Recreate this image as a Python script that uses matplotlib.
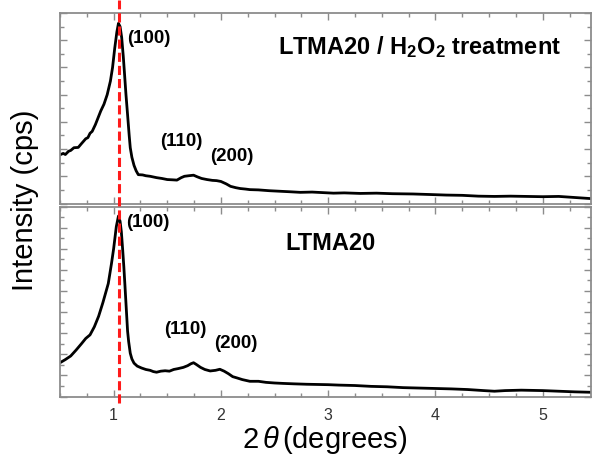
import matplotlib
matplotlib.use("Agg")
import matplotlib.pyplot as plt
import matplotlib.transforms as mtransforms
from matplotlib.ticker import MultipleLocator, NullFormatter

plt.rcParams['font.family'] = ['Liberation Sans', 'DejaVu Sans']
plt.rcParams['mathtext.fontset'] = 'custom'
plt.rcParams['mathtext.rm'] = 'Liberation Sans'
plt.rcParams['mathtext.it'] = 'Liberation Sans:italic'
plt.rcParams['mathtext.bf'] = 'Liberation Sans:bold'

# ---- data (arbitrary intensity units) ----
x_top = [0.50, 0.53, 0.55, 0.58, 0.60, 0.63, 0.67, 0.70, 0.74, 0.76, 0.78, 0.80, 0.83, 0.86, 0.88,
         0.91, 0.94, 0.97, 0.99, 1.01, 1.03, 1.045, 1.06, 1.075, 1.09, 1.10, 1.115,
         1.13, 1.145, 1.155, 1.17, 1.19, 1.21, 1.23, 1.27, 1.30, 1.34, 1.40, 1.45,
         1.50, 1.55, 1.59, 1.63, 1.66, 1.70, 1.745, 1.78, 1.82, 1.87, 1.92, 1.96,
         2.00, 2.05, 2.09, 2.14, 2.18, 2.23, 2.27, 2.35, 2.45, 2.55, 2.65, 2.74,
         2.85, 2.95, 3.05, 3.15, 3.30, 3.45, 3.60, 3.79, 3.95, 4.10, 4.25, 4.40,
         4.55, 4.70, 4.85, 5.00, 5.15, 5.30, 5.45]
y_top = [1.79, 1.84, 1.80, 1.92, 1.95, 2.05, 2.06, 2.20, 2.38, 2.42, 2.58, 2.65, 2.90, 3.20, 3.40,
         3.65, 4.00, 4.50, 5.00, 5.70, 6.30, 6.62, 6.50, 6.10, 5.40, 4.85, 4.00,
         3.26, 2.50, 2.05, 1.70, 1.40, 1.20, 1.06, 1.05, 1.02, 1.00, 0.95, 0.92,
         0.88, 0.87, 0.86, 0.95, 1.00, 1.02, 1.04, 0.98, 0.92, 0.88, 0.85, 0.84,
         0.81, 0.72, 0.63, 0.58, 0.55, 0.53, 0.51, 0.50, 0.47, 0.45, 0.43, 0.41,
         0.42, 0.40, 0.38, 0.39, 0.37, 0.38, 0.36, 0.35, 0.33, 0.31, 0.30, 0.27,
         0.26, 0.27, 0.26, 0.25, 0.26, 0.22, 0.18]

x_bot = [0.50, 0.55, 0.60, 0.65, 0.70, 0.74, 0.78, 0.82, 0.86, 0.90, 0.95, 0.98,
         1.00, 1.025, 1.045, 1.06, 1.072, 1.085, 1.095, 1.105, 1.118, 1.13, 1.14,
         1.155, 1.17, 1.19, 1.22, 1.26, 1.30, 1.34, 1.37, 1.40, 1.44, 1.48, 1.52,
         1.56, 1.60, 1.65, 1.69, 1.72, 1.745, 1.77, 1.81, 1.85, 1.90, 1.95, 1.99,
         2.03, 2.07, 2.11, 2.15, 2.20, 2.27, 2.35, 2.42, 2.50, 2.58, 2.68, 2.80,
         2.90, 3.00, 3.10, 3.25, 3.40, 3.55, 3.70, 3.85, 4.00, 4.15, 4.30, 4.45,
         4.55, 4.65, 4.80, 5.00, 5.15, 5.30, 5.45]
y_bot = [1.60, 1.75, 1.92, 2.20, 2.50, 2.75, 2.92, 3.30, 3.80, 4.45, 5.35, 6.30,
         7.00, 8.05, 8.55, 8.30, 7.80, 6.90, 6.15, 5.30, 4.15, 3.10, 2.60,
         2.05, 1.78, 1.58, 1.44, 1.35, 1.28, 1.24, 1.18, 1.15, 1.20, 1.22, 1.20,
         1.28, 1.32, 1.38, 1.46, 1.55, 1.60, 1.52, 1.38, 1.28, 1.21, 1.24, 1.29,
         1.20, 1.08, 0.94, 0.88, 0.80, 0.72, 0.72, 0.67, 0.64, 0.62, 0.60, 0.58,
         0.57, 0.56, 0.54, 0.52, 0.48, 0.46, 0.42, 0.40, 0.38, 0.36, 0.33, 0.28,
         0.25, 0.28, 0.30, 0.28, 0.25, 0.22, 0.20]

peak_pos = 1.053
top_labels = ['(100)', '(110)', '(200)']
top_label_x = [1.13, 1.43, 1.895]
top_label_y = [6.07, 2.28, 1.73]
bot_labels = ['(100)', '(110)', '(200)']
bot_label_x = [1.12, 1.475, 1.94]
bot_label_y = [8.25, 3.18, 2.52]
top_title = r'LTMA20 / H$_\mathbf{2}$O$_\mathbf{2}$ treatment'
bot_title = 'LTMA20'
xticks = [1, 2, 3, 4, 5]

W, H = 592, 466
fig = plt.figure(figsize=(W / 100, H / 100), dpi=100)
left, right = 60 / W, 591 / W
ax1 = fig.add_axes([left, 1 - 203.5 / H, right - left, (203.5 - 13) / H])
ax2 = fig.add_axes([left, 1 - 396.5 / H, right - left, (396.5 - 206.5) / H])

spine_c = '#8c8c8c'
for ax, ylim in ((ax1, (0, 7)), (ax2, (0, 9))):
    ax.set_xlim(0.5, 5.45)
    ax.set_ylim(*ylim)
    ax.xaxis.set_major_locator(MultipleLocator(1))
    ax.xaxis.set_minor_locator(MultipleLocator(0.25))
    ax.yaxis.set_major_locator(MultipleLocator(1))
    ax.yaxis.set_minor_locator(MultipleLocator(0.5))
    ax.yaxis.set_major_formatter(NullFormatter())
    ax.tick_params(which='both', direction='in', top=True, right=True,
                   color=spine_c, width=1.0)
    ax.tick_params(which='major', length=5)
    ax.tick_params(which='minor', length=3)
    for s in ax.spines.values():
        s.set_color(spine_c)
        s.set_linewidth(1.3)

ax1.xaxis.set_major_formatter(NullFormatter())
ax2.set_xticks(xticks)
ax2.set_xticklabels([str(t) for t in xticks])
ax2.tick_params(axis='x', which='major', labelsize=11.5, labelcolor='#333333', pad=8.5)

ax1.plot(x_top, y_top, color='black', lw=2.0, solid_joinstyle='round')
ax2.plot(x_bot, y_bot, color='black', lw=2.0, solid_joinstyle='round')

for t, x, y in zip(top_labels, top_label_x, top_label_y):
    ax1.text(x, y, t, fontsize=13.5, fontweight='bold', ha='left', va='center')
for t, x, y in zip(bot_labels, bot_label_x, bot_label_y):
    ax2.text(x, y, t, fontsize=13.5, fontweight='bold', ha='left', va='center')
ax1.text(2.533, 5.74, top_title, fontsize=17, fontweight='bold', ha='left', va='center')
ax2.text(2.60, 7.26, bot_title, fontsize=17, fontweight='bold', ha='left', va='center')

# red dashed reference line spanning both panels
trans = mtransforms.blended_transform_factory(ax2.transData, fig.transFigure)
fig.add_artist(plt.Line2D([peak_pos, peak_pos], [1 - 403 / H, 1.0], transform=trans,
                          color='#ff1a1a', lw=2.2, linestyle=(0, (3, 1.3)), clip_on=False))

fig.text(325 / W, 1 - 440 / H, r'2$\,\mathit{\theta}\,$(degrees)', fontsize=21,
         ha='center', va='center')
fig.text(25 / W, 1 - 200 / H, 'Intensity (cps)', fontsize=21, rotation=90,
         ha='center', va='center')

fig.savefig('out.png', dpi=100)
